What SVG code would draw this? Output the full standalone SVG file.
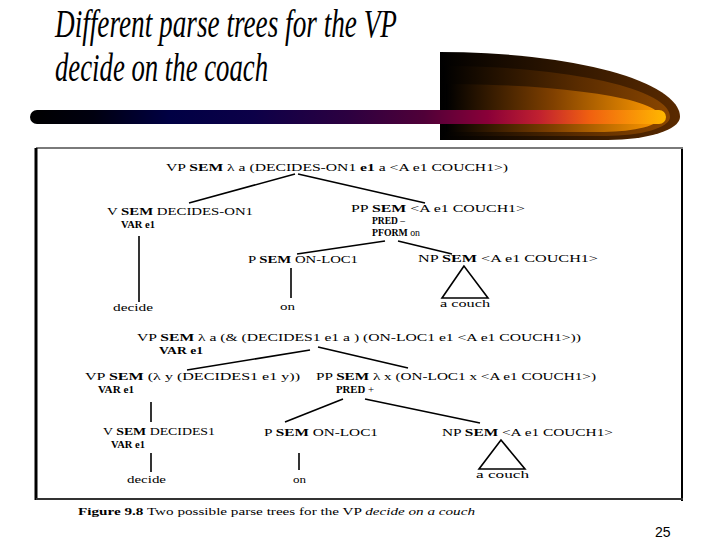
<svg xmlns="http://www.w3.org/2000/svg" width="720" height="540" viewBox="0 0 720 540">
<defs>
  <linearGradient id="barGrad" x1="0" y1="0" x2="1" y2="0">
    <stop offset="0" stop-color="#000000"/>
    <stop offset="0.1" stop-color="#000010"/>
    <stop offset="0.22" stop-color="#000044"/>
    <stop offset="0.35" stop-color="#0c0048"/>
    <stop offset="0.5" stop-color="#2c0040"/>
    <stop offset="0.62" stop-color="#500038"/>
    <stop offset="0.72" stop-color="#8a0038"/>
    <stop offset="0.8" stop-color="#c02030"/>
    <stop offset="0.88" stop-color="#f06010"/>
    <stop offset="1" stop-color="#ffb800"/>
  </linearGradient>
  <linearGradient id="brOuter" x1="0" y1="0" x2="1" y2="0">
    <stop offset="0" stop-color="#000000"/>
    <stop offset="1" stop-color="#5a2a00"/>
  </linearGradient>
  <linearGradient id="brMid" x1="0" y1="0" x2="1" y2="0">
    <stop offset="0" stop-color="#000000"/>
    <stop offset="0.6" stop-color="#5a2c00"/>
    <stop offset="1" stop-color="#8a4600"/>
  </linearGradient>
  <linearGradient id="brInner" x1="0" y1="0" x2="1" y2="0">
    <stop offset="0" stop-color="#000000"/>
    <stop offset="0.5" stop-color="#804000"/>
    <stop offset="1" stop-color="#ff9a00"/>
  </linearGradient>
  <style>
    .title { font-family: "Liberation Serif", "Times New Roman", serif; font-style: italic; font-size: 39px; fill: #000; }
    .t { font-family: "Liberation Serif", "Times New Roman", serif; font-size: 11px; fill: #000; }
    .s { font-family: "Liberation Serif", "Times New Roman", serif; font-size: 9.5px; fill: #000; }
    .b { font-weight: bold; }
    .leaf { font-family: "Liberation Serif", "Times New Roman", serif; font-size: 11px; fill: #000; }
    .edge { stroke: #000; stroke-width: 1.6; fill: none; }
    .tri { stroke: #000; stroke-width: 1.6; fill: none; stroke-linejoin: miter; }
    .cap { font-family: "Liberation Serif", "Times New Roman", serif; font-size: 10.5px; fill: #000; }
    .pg { font-family: "Liberation Sans", Arial, sans-serif; font-size: 14px; fill: #000; }
  </style>
</defs>

<!-- Title -->
<g id="title">
  <text class="title" x="55" y="37" textLength="342" lengthAdjust="spacingAndGlyphs">Different parse trees for the VP</text>
  <text class="title" x="55" y="81" textLength="213" lengthAdjust="spacingAndGlyphs">decide on the coach</text>
</g>

<!-- Decorative bar -->
<g id="decor">
  <path d="M440,52 A240,65 0 0 1 680,117 A72,23 0 0 1 608,140 L440,140 Z" fill="url(#brOuter)"/>
  <path d="M443,66 A228,51 0 0 1 670,117 A64,19 0 0 1 606,136 L443,136 Z" fill="url(#brMid)"/>
  <path d="M446,84 A216,33 0 0 1 660,117 A56,15 0 0 1 604,132 L446,132 Z" fill="url(#brInner)"/>
  <rect x="30" y="110" width="636" height="14" rx="7" ry="7" fill="url(#barGrad)"/>
</g>

<!-- Figure frame -->
<g id="frame">
  <line x1="36" y1="148" x2="683" y2="148" stroke="#7a7a7a" stroke-width="2"/>
  <line x1="36" y1="148" x2="36" y2="500" stroke="#000" stroke-width="3"/>
  <line x1="682" y1="149" x2="682" y2="501" stroke="#000" stroke-width="2"/>
  <line x1="36" y1="499" x2="683" y2="499" stroke="#333" stroke-width="2"/>
</g>

<!-- Connectors -->
<g id="connectors">
  <!-- tree 1 -->
  <line class="edge" x1="295" y1="174" x2="189" y2="203"/>
  <line class="edge" x1="298" y1="174" x2="425" y2="203"/>
  <line class="edge" x1="139" y1="236" x2="139" y2="302"/>
  <line class="edge" x1="385" y1="241" x2="297" y2="254"/>
  <line class="edge" x1="398" y1="241" x2="452" y2="254"/>
  <line class="edge" x1="291" y1="268" x2="291" y2="298"/>
  <polygon class="tri" points="464,266 442,298 488,298"/>
  <!-- tree 2 -->
  <line class="edge" x1="310" y1="350" x2="187" y2="370"/>
  <line class="edge" x1="318" y1="347" x2="408" y2="368"/>
  <line class="edge" x1="151" y1="402" x2="151" y2="422"/>
  <line class="edge" x1="151" y1="453" x2="151" y2="472"/>
  <line class="edge" x1="343" y1="399" x2="285" y2="422"/>
  <line class="edge" x1="365" y1="399" x2="480" y2="423"/>
  <line class="edge" x1="299" y1="453" x2="299" y2="470"/>
  <polygon class="tri" points="501,440 479,469 525,469"/>
</g>

<!-- Tree 1 nodes -->
<g id="t1-vp">
  <text class="t" x="166" y="171" textLength="342" lengthAdjust="spacingAndGlyphs">VP <tspan class="b">SEM</tspan> λ a (DECIDES-ON1 <tspan class="b">e1</tspan>  a &lt;A e1 COUCH1&gt;)</text>
</g>
<g id="t1-v">
  <text class="t" x="107" y="215" textLength="146" lengthAdjust="spacingAndGlyphs">V <tspan class="b">SEM</tspan> DECIDES-ON1</text>
  <text class="s b" x="121" y="228" textLength="34" lengthAdjust="spacingAndGlyphs">VAR e1</text>
</g>
<g id="t1-decide">
  <text class="leaf" x="113" y="311" textLength="40" lengthAdjust="spacingAndGlyphs">decide</text>
</g>
<g id="t1-pp">
  <text class="t" x="351" y="212" textLength="174" lengthAdjust="spacingAndGlyphs">PP <tspan class="b">SEM</tspan>  &lt;A e1 COUCH1&gt;</text>
  <text class="s" x="372" y="224" textLength="33" lengthAdjust="spacingAndGlyphs"><tspan class="b">PRED</tspan>  –</text>
  <text class="s" x="372" y="236" textLength="48" lengthAdjust="spacingAndGlyphs"><tspan class="b">PFORM</tspan> on</text>
</g>
<g id="t1-p">
  <text class="t" x="248" y="263" textLength="110" lengthAdjust="spacingAndGlyphs">P <tspan class="b">SEM</tspan>  ON-LOC1</text>
</g>
<g id="t1-on">
  <text class="leaf" x="280" y="310" textLength="15" lengthAdjust="spacingAndGlyphs">on</text>
</g>
<g id="t1-np">
  <text class="t" x="418" y="262" textLength="180" lengthAdjust="spacingAndGlyphs">NP <tspan class="b">SEM</tspan>  &lt;A e1 COUCH1&gt;</text>
  <text class="leaf" x="440" y="307" textLength="50" lengthAdjust="spacingAndGlyphs">a   couch</text>
</g>

<!-- Tree 2 nodes -->
<g id="t2-vp">
  <text class="t" x="137" y="341" textLength="444" lengthAdjust="spacingAndGlyphs">VP <tspan class="b">SEM</tspan> λ a (&amp; (DECIDES1 e1  a ) (ON-LOC1 e1 &lt;A e1 COUCH1&gt;))</text>
  <text class="s b" x="159" y="354" textLength="44" lengthAdjust="spacingAndGlyphs">VAR e1</text>
</g>
<g id="t2-vp2">
  <text class="t" x="85" y="380" textLength="215" lengthAdjust="spacingAndGlyphs">VP <tspan class="b">SEM</tspan>  (λ y (DECIDES1 e1 y))</text>
  <text class="s b" x="98" y="393" textLength="36" lengthAdjust="spacingAndGlyphs">VAR e1</text>
</g>
<g id="t2-v">
  <text class="t" x="103" y="435" textLength="112" lengthAdjust="spacingAndGlyphs">V <tspan class="b">SEM</tspan> DECIDES1</text>
  <text class="s b" x="111" y="448" textLength="34" lengthAdjust="spacingAndGlyphs">VAR e1</text>
</g>
<g id="t2-decide">
  <text class="leaf" x="127" y="483" textLength="39" lengthAdjust="spacingAndGlyphs">decide</text>
</g>
<g id="t2-pp">
  <text class="t" x="316" y="380" textLength="280" lengthAdjust="spacingAndGlyphs">PP <tspan class="b">SEM</tspan>  λ x (ON-LOC1 x &lt;A e1 COUCH1&gt;)</text>
  <text class="s" x="336" y="393" textLength="38" lengthAdjust="spacingAndGlyphs"><tspan class="b">PRED</tspan>  +</text>
</g>
<g id="t2-p">
  <text class="t" x="264" y="436" textLength="114" lengthAdjust="spacingAndGlyphs">P <tspan class="b">SEM</tspan>  ON-LOC1</text>
</g>
<g id="t2-on">
  <text class="leaf" x="293" y="483" textLength="13" lengthAdjust="spacingAndGlyphs">on</text>
</g>
<g id="t2-np">
  <text class="t" x="442" y="436" textLength="171" lengthAdjust="spacingAndGlyphs">NP <tspan class="b">SEM</tspan>  &lt;A e1 COUCH1&gt;</text>
  <text class="leaf" x="476" y="478" textLength="53" lengthAdjust="spacingAndGlyphs">a   couch</text>
</g>

<!-- Caption -->
<g id="caption">
  <text class="cap" x="78" y="515" textLength="397" lengthAdjust="spacingAndGlyphs"><tspan font-weight="bold">Figure 9.8</tspan>    Two possible parse trees for the VP <tspan font-style="italic">decide on a couch</tspan></text>
</g>

<!-- Page number -->
<g id="page">
  <text class="pg" x="655" y="537">25</text>
</g>
</svg>
